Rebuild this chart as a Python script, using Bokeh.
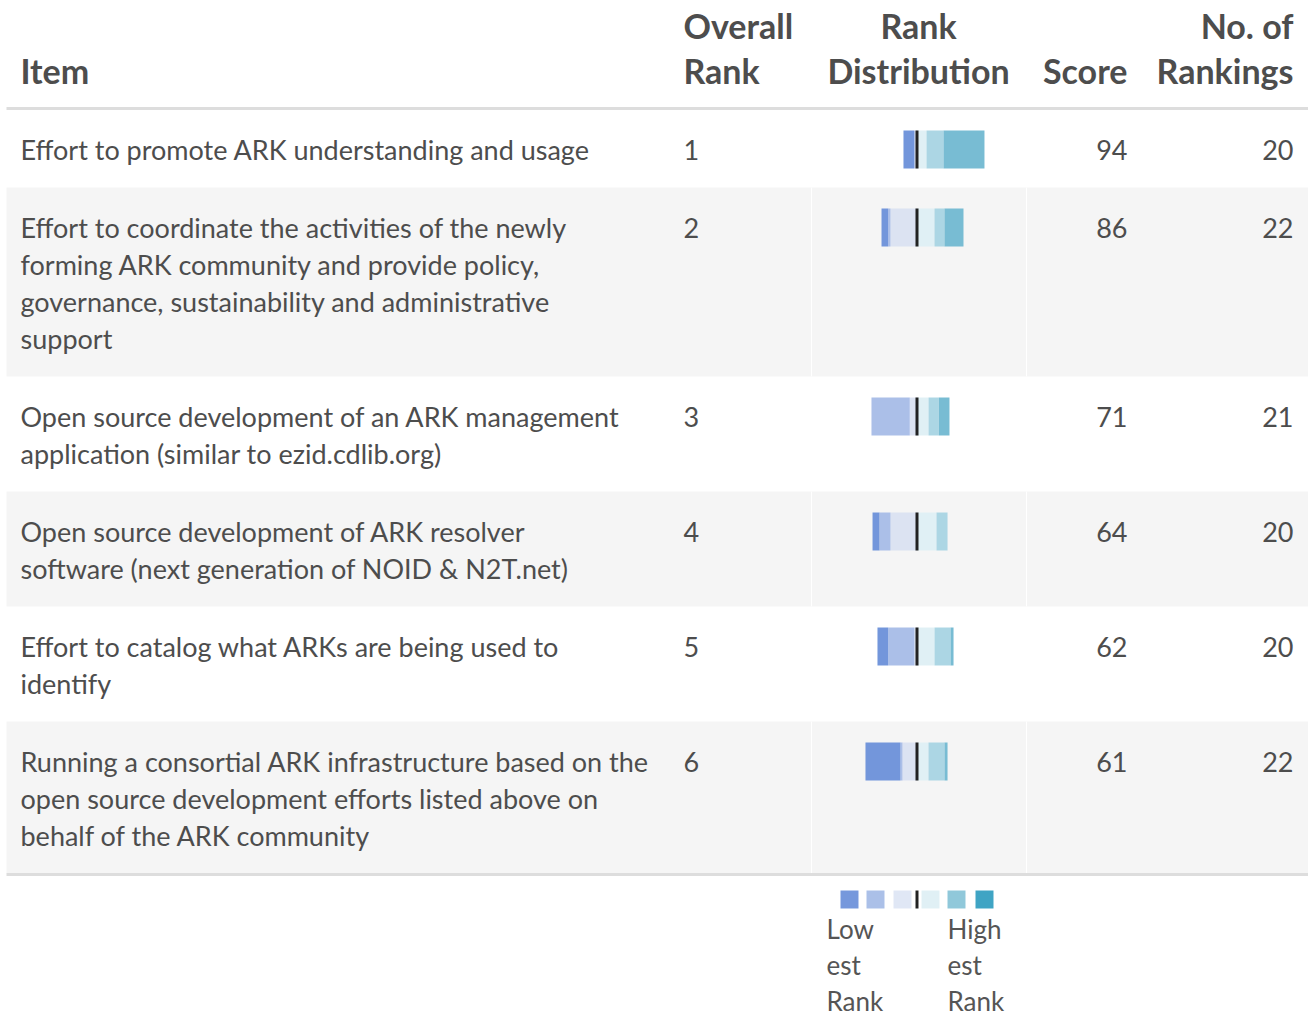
import numpy as np
from bokeh.plotting import figure
from bokeh.models import Range1d, ColumnDataSource
from bokeh.core.properties import value
from bokeh.embed import file_html
from bokeh.resources import INLINE

# ---------------- data ----------------
items = [
    ["Effort to promote ARK understanding and usage"],
    ["Effort to coordinate the activities of the newly",
     "forming ARK community and provide policy,",
     "governance, sustainability and administrative",
     "support"],
    ["Open source development of an ARK management",
     "application (similar to ezid.cdlib.org)"],
    ["Open source development of ARK resolver",
     "software (next generation of NOID & N2T.net)"],
    ["Effort to catalog what ARKs are being used to",
     "identify"],
    ["Running a consortial ARK infrastructure based on the",
     "open source development efforts listed above on",
     "behalf of the ARK community"],
]
overall_rank = [1, 2, 3, 4, 5, 6]
scores = [94, 86, 71, 64, 62, 61]
n_rankings = [20, 22, 21, 20, 20, 22]

# rank distribution shares, lowest rank -> highest rank (6 levels)
dist_1 = [13.6, 0.0, 3.1, 11.7, 21.0, 50.6]
dist_2 = [8.3, 2.8, 32.7, 21.6, 12.3, 23.5]
dist_3 = [0.0, 47.3, 8.9, 14.2, 12.7, 13.2]
dist_4 = [8.6, 13.6, 32.7, 24.1, 13.6, 0.0]
dist_5 = [13.2, 32.5, 3.1, 21.6, 19.8, 3.7]
dist_6 = [43.2, 2.5, 17.9, 14.2, 19.8, 3.7]
dists = [dist_1, dist_2, dist_3, dist_4, dist_5, dist_6]

header_cols = [["Item"], ["Overall", "Rank"], ["Rank", "Distribution"],
               ["Score"], ["No. of", "Rankings"]]
legend_low = ["Low", "est", "Rank"]
legend_high = ["High", "est", "Rank"]

# ---------------- styles ----------------
bar_colors = ["#7396db", "#abbfe8", "#dce3f2", "#e0f0f5", "#acd6e4", "#78bcd3"]
legend_colors = ["#7698dc", "#abc0e8", "#e0e7f5", "#e0f0f5", "#90c8da", "#3fa4c4"]
TEXT = "#4d4d4d"
FONT = value("Lato")

W, H = 1308, 1015
p = figure(width=W, height=H, x_range=Range1d(0, W), y_range=Range1d(H, 0),
           output_backend="svg", toolbar_location=None, min_border=0,
           x_axis_type=None, y_axis_type=None, outline_line_color=None,
           background_fill_color="white", border_fill_color="white")
p.grid.visible = False

center_px = 916.5
px_per_unit = 0.81
p.extra_x_ranges = {"dist": Range1d(-center_px / px_per_unit, (W - center_px) / px_per_unit)}

# layout
x_item, x_rank, x_dist, x_score, x_n = 20, 683, 918, 1127, 1293
head_line = 108
row_tops = []
heights = []
t = head_line + 1
for lines in items:
    h = 41 + 37 * len(lines)
    row_tops.append(t)
    heights.append(h)
    t += h
table_bottom = t

# row backgrounds (zebra)
gray_idx = [i for i in range(len(items)) if i % 2 == 1]
p.quad(left=6, right=W, top=[row_tops[i] for i in gray_idx],
       bottom=[row_tops[i] + heights[i] for i in gray_idx],
       fill_color="#f5f5f5", line_color=None)
for xs in (811, 1026):
    p.segment(x0=xs, x1=xs, y0=[row_tops[i] for i in gray_idx],
              y1=[row_tops[i] + heights[i] for i in gray_idx],
              line_color="white", line_width=1)

# rules
p.segment(x0=6, x1=W, y0=head_line, y1=head_line, line_color="#dddddd", line_width=3)
p.segment(x0=6, x1=W, y0=table_bottom + 1, y1=table_bottom + 1, line_color="#dddddd", line_width=3)

# header
hx = [(x_item, "left"), (x_rank, "left"), (x_dist, "center"), (x_score, "right"), (x_n, "right")]
for (x, align), lines in zip(hx, header_cols):
    ys = [70 - 45 * (len(lines) - 1 - k) for k in range(len(lines))]
    p.text(x=[x] * len(lines), y=ys, text=lines, text_font=FONT, text_font_size="34px",
           text_font_style="bold", text_color=TEXT, text_align=align, text_baseline="middle")

# body text
tx, ty, tt = [], [], []
for i, lines in enumerate(items):
    for k, line in enumerate(lines):
        tx.append(x_item); ty.append(row_tops[i] + 40 + 37 * k); tt.append(line)
p.text(x=tx, y=ty, text=tt, text_font=FONT, text_font_size="27px", text_color=TEXT,
       text_baseline="middle", text_align="left")
first_y = [row_tops[i] + 40 for i in range(len(items))]
p.text(x=[x_rank] * 6, y=first_y, text=[str(v) for v in overall_rank], text_font=FONT,
       text_font_size="27px", text_color=TEXT, text_baseline="middle", text_align="left")
p.text(x=[x_score] * 6, y=first_y, text=[str(v) for v in scores], text_font=FONT,
       text_font_size="27px", text_color=TEXT, text_baseline="middle", text_align="right")
p.text(x=[x_n] * 6, y=first_y, text=[str(v) for v in n_rankings], text_font=FONT,
       text_font_size="27px", text_color=TEXT, text_baseline="middle", text_align="right")

# diverging rank distribution bars
seg = dict(y=[], left=[], right=[], color=[])
for i, d in enumerate(dists):
    yb = row_tops[i] + 40
    pos = 0.0
    for c in (2, 1, 0):
        seg["y"].append(yb); seg["right"].append(-pos); seg["left"].append(-(pos + d[c]))
        seg["color"].append(bar_colors[c]); pos += d[c]
    pos = 0.0
    for c in (3, 4, 5):
        seg["y"].append(yb); seg["left"].append(pos); seg["right"].append(pos + d[c])
        seg["color"].append(bar_colors[c]); pos += d[c]
p.hbar(y="y", left="left", right="right", height=38, fill_color="color", line_color=None,
       source=ColumnDataSource(seg), x_range_name="dist")
p.segment(x0=0, x1=0, y0=[row_tops[i] + 21 for i in range(6)],
          y1=[row_tops[i] + 59 for i in range(6)], line_color="#222222", line_width=3,
          x_range_name="dist")

# legend
leg_y = 899
leg_x = [849, 875, 902, 930, 956, 984]
p.rect(x=leg_x, y=leg_y, width=18, height=18, fill_color=legend_colors, line_color=None)
p.segment(x0=[center_px], x1=[center_px], y0=[leg_y - 9], y1=[leg_y + 9],
          line_color="#222222", line_width=3)
for x, lines in ((826, legend_low), (947, legend_high)):
    p.text(x=[x] * 3, y=[928, 964, 1000], text=lines, text_font=FONT, text_font_size="26px",
           text_color="#555555", text_baseline="middle", text_align="left")

open("out.html", "w").write(file_html(p, INLINE))
